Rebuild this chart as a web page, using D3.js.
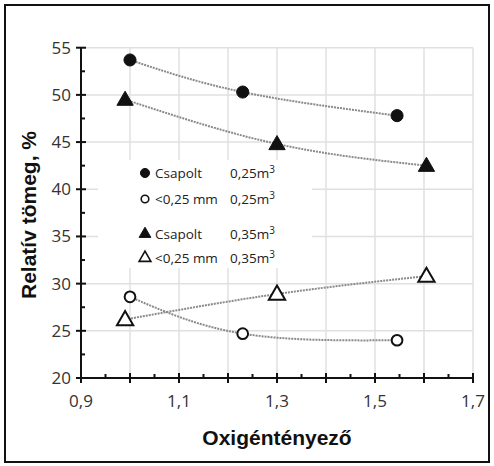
<!DOCTYPE html>
<html><head><meta charset="utf-8">
<script src="https://cdn.jsdelivr.net/npm/d3@7"></script>
<style>body{margin:0;background:#fff}svg{display:block}</style>
</head><body>
<script>
// Data
const xValsA = [1.0, 1.23, 1.545];        // 0,25 m3 series x
const csapolt025 = [53.7, 50.3, 47.8];
const fine025 = [28.6, 24.7, 24.0];
const xValsB = [0.99, 1.30, 1.605];       // 0,35 m3 series x
const csapolt035 = [49.5, 44.8, 42.5];
const fine035 = [26.2, 28.9, 30.8];
const legendNames = ["Csapolt", "<0,25 mm", "Csapolt", "<0,25 mm"];
const legendVolumes = ["0,25", "0,25", "0,35", "0,35"];
const xTickLabels = [0.9, 1.1, 1.3, 1.5, 1.7];
const yTickLabels = [20, 25, 30, 35, 40, 45, 50, 55];

const W = 494, H = 466;
const svg = d3.select("body").append("svg").attr("width", W).attr("height", H);

svg.append("rect").attr("x", 5).attr("y", 5).attr("width", 484).attr("height", 457)
  .attr("fill", "#fff").attr("stroke", "#111").attr("stroke-width", 2);

const x = d3.scaleLinear().domain([0.9, 1.7]).range([81, 473]);
const y = d3.scaleLinear().domain([20, 55]).range([378, 47.7]);

// grid
const g = svg.append("g");
g.selectAll(".vg").data(d3.range(1.0, 1.71, 0.1)).join("line")
  .attr("x1", d => x(d)).attr("x2", d => x(d)).attr("y1", y(55)).attr("y2", y(20))
  .attr("stroke", "#e0e0e0").attr("stroke-width", 1.5);
g.selectAll(".hg").data(d3.range(25, 55.1, 5)).join("line")
  .attr("x1", x(0.9)).attr("x2", x(1.7)).attr("y1", d => y(d)).attr("y2", d => y(d))
  .attr("stroke", "#e0e0e0").attr("stroke-width", 1.5);
// legend white box hides grid
svg.append("rect").attr("x", 98).attr("y", 160).attr("width", 214).attr("height", 108).attr("fill", "#fff");

// axes
const ax = svg.append("g");
ax.append("line").attr("x1", x(0.9)).attr("x2", x(1.7)).attr("y1", y(20)).attr("y2", y(20)).attr("stroke", "#111").attr("stroke-width", 2);
ax.append("line").attr("x1", x(0.9)).attr("x2", x(0.9)).attr("y1", y(20)).attr("y2", y(55)).attr("stroke", "#111").attr("stroke-width", 2);
ax.selectAll(".xmaj").data(d3.range(0.9, 1.71, 0.1)).join("line")
  .attr("x1", d => x(d)).attr("x2", d => x(d)).attr("y1", y(20) - 5).attr("y2", y(20) + 5)
  .attr("stroke", "#111").attr("stroke-width", 2);
ax.selectAll(".xmin").data(d3.range(0.95, 1.7, 0.1)).join("line")
  .attr("x1", d => x(d)).attr("x2", d => x(d)).attr("y1", y(20) - 4).attr("y2", y(20))
  .attr("stroke", "#111").attr("stroke-width", 2);
ax.selectAll(".ymaj").data(d3.range(20, 55.1, 5)).join("line")
  .attr("x1", x(0.9) - 5).attr("x2", x(0.9) + 5).attr("y1", d => y(d)).attr("y2", d => y(d))
  .attr("stroke", "#111").attr("stroke-width", 2);
ax.selectAll(".ymin").data(d3.range(22.5, 55, 5)).join("line")
  .attr("x1", x(0.9)).attr("x2", x(0.9) + 4).attr("y1", d => y(d)).attr("y2", d => y(d))
  .attr("stroke", "#111").attr("stroke-width", 2);

const tf = "'Open Sans', sans-serif";
ax.selectAll(".xl").data(xTickLabels).join("text")
  .attr("x", d => x(d)).attr("y", 407).attr("text-anchor", "middle")
  .attr("font-family", tf).attr("font-size", 17).attr("fill", "#333")
  .text(d => d3.format(".1f")(d).replace(".", ","));
ax.selectAll(".yl").data(yTickLabels).join("text")
  .attr("x", 71).attr("y", d => y(d) + 6).attr("text-anchor", "end")
  .attr("font-family", tf).attr("font-size", 17).attr("fill", "#333")
  .text(d => d);

// axis titles
svg.append("text").attr("x", 277).attr("y", 445).attr("text-anchor", "middle")
  .attr("font-family", "'Liberation Sans', Arial, sans-serif").attr("font-weight", "bold")
  .attr("font-size", 21).attr("fill", "#111").text("Oxigéntényező");
svg.append("text").attr("transform", `translate(36,215) rotate(-90)`).attr("text-anchor", "middle")
  .attr("font-family", "'Liberation Sans', Arial, sans-serif").attr("font-weight", "bold")
  .attr("font-size", 21).attr("fill", "#111").text("Relatív tömeg, %");

// series
const series = [
  {xs: xValsA, ys: csapolt025, shape: "circle", filled: true},
  {xs: xValsA, ys: fine025, shape: "circle", filled: false},
  {xs: xValsB, ys: csapolt035, shape: "triangle", filled: true},
  {xs: xValsB, ys: fine035, shape: "triangle", filled: false}
];
const line = d3.line().x(d => x(d[0])).y(d => y(d[1])).curve(d3.curveNatural);
series.forEach(s => {
  const pts = s.xs.map((v, i) => [v, s.ys[i]]);
  svg.append("path").attr("d", line(pts)).attr("fill", "none")
    .attr("stroke", "#8a8a8a").attr("stroke-width", 2).attr("stroke-dasharray", "2,1");
});
function marker(sel, s, size) {
  const sym = s.shape === "circle" ? d3.symbolCircle : d3.symbolTriangle;
  sel.attr("d", d3.symbol().type(sym).size(size))
    .attr("fill", s.filled ? "#111" : "#fff")
    .attr("stroke", "#111").attr("stroke-width", s.filled ? 1 : 2);
}
series.forEach(s => {
  svg.selectAll(null).data(s.xs.map((v, i) => [v, s.ys[i]])).join("path")
    .attr("transform", d => `translate(${x(d[0])},${y(d[1]) + (s.shape === "triangle" ? 1 : 0)})`)
    .call(sel => marker(sel, s, s.shape === "circle" ? (s.filled ? 115 : 90) : 115));
});

// legend
const ly = [173, 199, 234, 258];
series.forEach((s, i) => {
  svg.append("path").attr("transform", `translate(145,${ly[i]})`)
    .call(sel => marker(sel, s, s.shape === "circle" ? (s.filled ? 65 : 45) : 60))
    .attr("stroke-width", s.filled ? 1 : 1.6);
  svg.append("text").attr("x", 155).attr("y", ly[i] + 5)
    .attr("font-family", tf).attr("font-size", 13.5).attr("fill", "#222").text(legendNames[i]);
  const t = svg.append("text").attr("x", 230).attr("y", ly[i] + 5)
    .attr("font-family", tf).attr("font-size", 13.5).attr("fill", "#222");
  t.append("tspan").text(legendVolumes[i] + "m");
  t.append("tspan").attr("dy", -5).attr("font-size", 10).text("3");
});
</script>
</body></html>
